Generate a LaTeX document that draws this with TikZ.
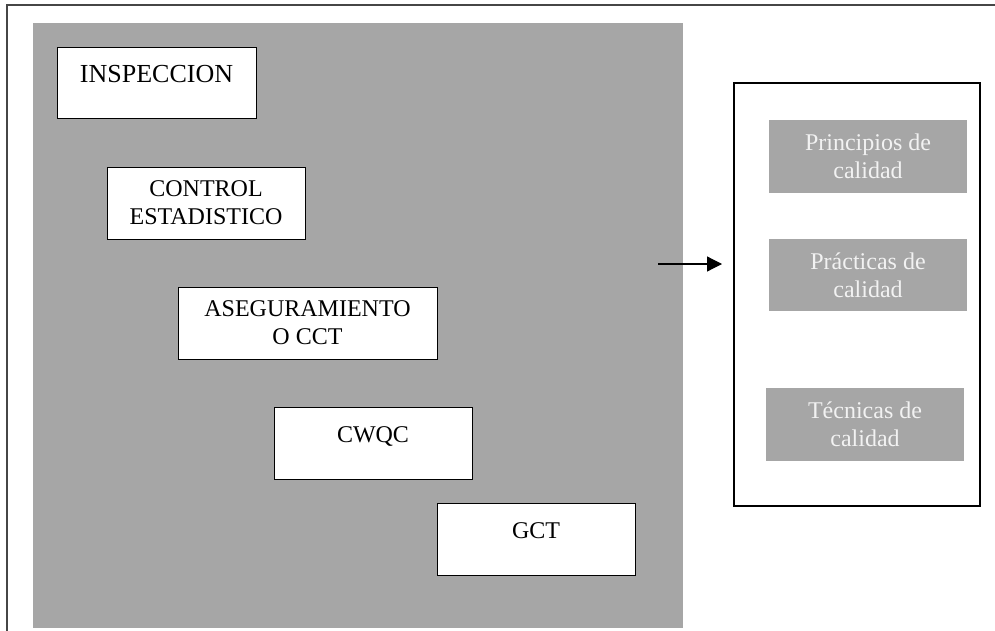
\documentclass[tikz,border=0pt]{standalone}
\usepackage{fontspec}
\setmainfont{Liberation Serif}
\usepackage{tikz}
\usetikzlibrary{arrows.meta,positioning}
\definecolor{panelgray}{RGB}{166,166,166}
\definecolor{framegray}{RGB}{70,70,70}
\definecolor{softwhite}{RGB}{242,242,242}
\tikzset{
  stage/.style={draw, fill=white, line width=0.5pt, align=center, inner sep=0pt,
    minimum width=99pt, minimum height=36pt, font=\fontsize{12}{14}\selectfont},
  topline/.style={text height=9pt, text depth=10pt},   % one line, sits high in the box
  pillar/.style={fill=panelgray, text=softwhite, align=center, inner sep=0pt,
    minimum width=99pt, minimum height=36pt, font=\fontsize{12}{14}\selectfont},
  toolbox/.style={draw, line width=0.6pt, minimum width=123pt, minimum height=211.5pt},
  flowArrow/.style={-{Triangle[length=7.5pt,width=7.5pt]}, line width=0.6pt}
}

\begin{document}
\begin{tikzpicture}[x=0.5pt,y=-0.5pt]
  \useasboundingbox (0,0) rectangle (995,631);
  % frame + gray area
  \draw[framegray, line width=0.8pt] (7,631) -- (7,5) -- (995,5);
  \fill[panelgray] (33,23) rectangle (683,628);

  % --- stages ---
  \node[stage, topline, minimum width=99.5pt, minimum height=35.5pt,
    font=\fontsize{13}{15}\selectfont] (insp) at (156.5,83.5) {INSPECCION};
  \node[stage] (ctrl) at (206,203) {CONTROL\\ESTADISTICO};
  \node[stage, minimum width=129.5pt] (aseg) at (307.5,323) {ASEGURAMIENTO\\O CCT};
  \node[stage, topline] (cwqc) at (373,443) {CWQC};
  \node[stage, topline] (gct) at (536,539) {GCT};

  % --- right panel ---
  \node[toolbox] (tools) at (857,294.5) {};
  \node[pillar, minimum height=36.5pt] (princ) at (868,156.5) {Principios de\\calidad};
  \node[pillar] (pract) at (868,275) {Prácticas de\\calidad};
  \node[pillar, minimum height=36.5pt] (tecn) at (865,424.5) {Técnicas de\\calidad};

  % arrow
  \coordinate (arrS) at (658,264);
  \coordinate (arrE) at (722,264);
  \draw[flowArrow] (arrS) -- (arrE);
\end{tikzpicture}
\end{document}
